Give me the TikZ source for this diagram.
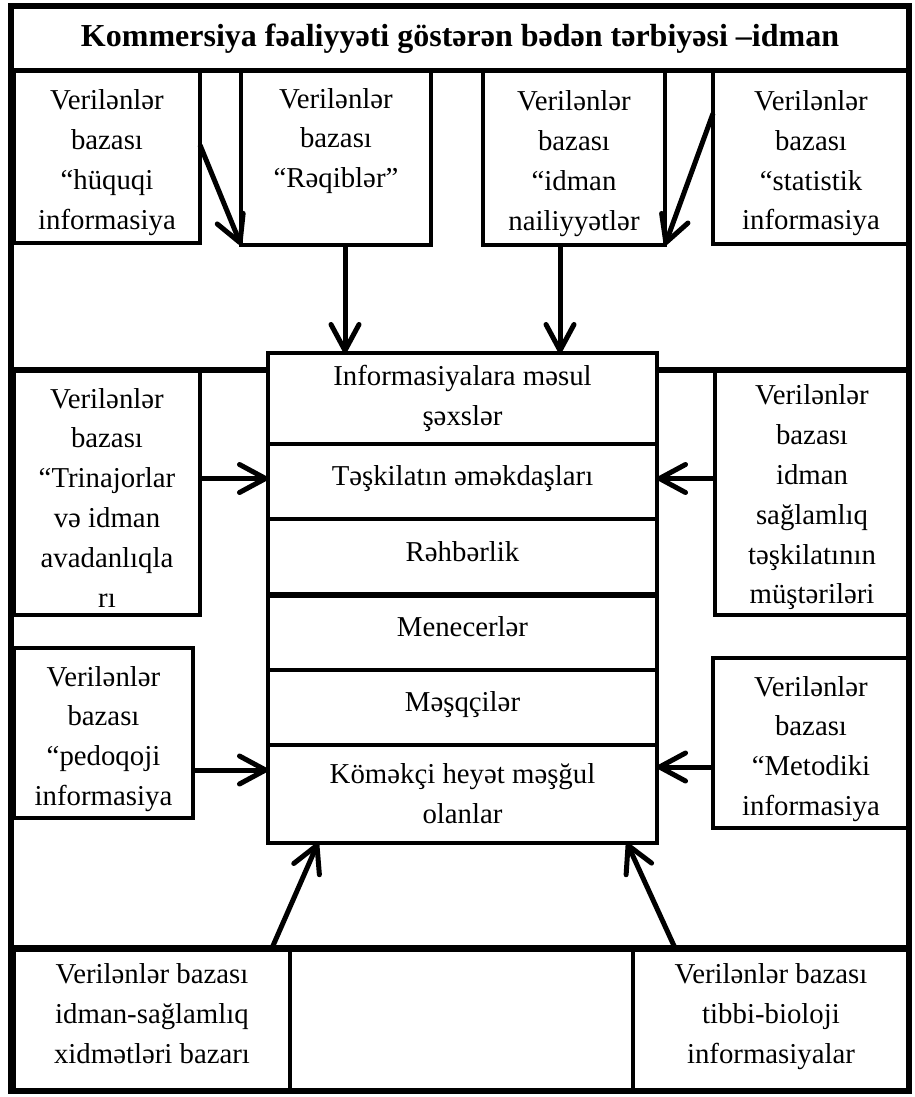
\documentclass[tikz,border=0pt]{standalone}
\usepackage{fontspec}
\setmainfont{Liberation Serif}
\usetikzlibrary{arrows.meta,calc}
\begin{document}
\begin{tikzpicture}[x=1pt,y=-1pt,
  box/.style={draw,line width=3.5pt,inner sep=0pt,outer sep=0pt,align=center,
    font=\fontsize{28.8}{39.8}\selectfont},
  four/.style={text height=151pt},
  six/.style={text height=229pt},
  row/.style={box,minimum width=389pt},
  onerow/.style={text height=20pt,text depth=12pt},
  frameline/.style={line width=6.5pt},
  sepline/.style={line width=6pt},
  arr/.style={line width=5pt,-{Straight Barb[length=26pt,width=28pt,round]}},
]
\useasboundingbox (0,0) rectangle (915,1097);

% title strip
\node[box,line width=5pt,minimum width=898pt,minimum height=65pt,
  font=\bfseries\fontsize{32}{38}\selectfont] (title) at (460,38.5)
  {Kommersiya fəaliyyəti göstərən bədən tərbiyəsi –idman};

% upper row of databases
\node[box,four,minimum width=186pt,minimum height=172pt] (b1) at (107,157)
  {Verilənlər\\bazası\\“hüquqi\\informasiya};
\node[box,four,minimum width=190pt,minimum height=174pt] (b2) at (336,158)
  {Verilənlər\\bazası\\“Rəqiblər”\\\strut};
\node[box,four,minimum width=182pt,minimum height=174pt] (b3) at (574,158)
  {Verilənlər\\bazası\\“idman\\nailiyyətlər};
\node[box,four,minimum width=196pt,minimum height=173pt] (b4) at (811,157.5)
  {Verilənlər\\bazası\\“statistik\\informasiya};

% central column of staff groups
\node[row,minimum height=91pt] (c1) at (462.5,398.5) {Informasiyalara məsul\\şəxslər};
\node[row,onerow,minimum height=75pt] (c2) at (462.5,481.5) {Təşkilatın əməkdaşları};
\node[row,onerow,minimum height=76pt] (c3) at (462.5,557) {Rəhbərlik};
\node[row,onerow,minimum height=75pt] (c4) at (462.5,632.5) {Menecerlər};
\node[row,onerow,minimum height=75pt] (c5) at (462.5,707.5) {Məşqçilər};
\node[row,minimum height=98pt] (c6) at (462.5,794) {Köməkçi heyət məşğul\\olanlar};
\draw[sepline] (c3.south west) -- (c3.south east);

% side databases
\node[box,six,minimum width=186pt,minimum height=245pt] (l2) at (107,492.5)
  {Verilənlər\\bazası\\“Trinajorlar\\və idman\\avadanlıqla\\rı};
\node[box,six,minimum width=194pt,minimum height=245pt] (r2) at (812,492.5)
  {Verilənlər\\bazası\\idman\\sağlamlıq\\təşkilatının\\müştəriləri};
\node[box,four,minimum width=179pt,minimum height=170pt] (l3) at (103.5,733)
  {Verilənlər\\bazası\\“pedoqoji\\informasiya};
\node[box,four,minimum width=196pt,minimum height=170pt] (r3) at (811,743)
  {Verilənlər\\bazası\\“Metodiki\\informasiya};

\draw[sepline] (l2.north west) -- (l2.north -| c1.west);
\draw[sepline] (r2.north east) -- (r2.north -| c1.east);

% lower databases
\node[box,minimum width=276pt,minimum height=143pt] (bl) at (152,1019.5)
  {Verilənlər bazası\\idman-sağlamlıq\\xidmətləri bazarı\strut};
\node[box,minimum width=343pt,minimum height=143pt] (bm) at (461.5,1019.5) {};
\node[box,minimum width=276pt,minimum height=143pt] (br) at (771,1019.5)
  {Verilənlər bazası\\tibbi-bioloji\\informasiyalar\strut};
\draw[line width=7pt] (bl.north west) -- (br.north east);

% outer frame
\node[draw,frameline,minimum width=898pt,minimum height=1085pt,inner sep=0pt] (frame) at (460,548.5) {};

% connectors
\coordinate (xa) at (345,0);
\coordinate (xb) at (560,0);
\draw[arr] ([yshift=12pt]b1.east) -- (b2.south west);
\draw[arr] ([yshift=44pt]b4.west) -- (b3.south east);
\draw[arr] (b2.south -| xa) -- (c1.north -| xa);
\draw[arr] (b3.south -| xb) -- (c1.north -| xb);
\draw[arr] ([yshift=14pt]l2.east) -- ([yshift=14pt]l2.east -| c2.west);
\draw[arr] ([yshift=14pt]r2.west) -- ([yshift=14pt]r2.west -| c2.east);
\draw[arr] ([yshift=-37pt]l3.east) -- ([yshift=-37pt]l3.east -| c6.west);
\draw[arr] ([yshift=-24pt]r3.west) -- ([yshift=-24pt]r3.west -| c6.east);
\draw[arr] ([xshift=-18pt]bl.north east) -- ([xshift=50pt]c6.south west);
\draw[arr] ([xshift=42pt]br.north west) -- ([xshift=-30pt]c6.south east);
\end{tikzpicture}
\end{document}
